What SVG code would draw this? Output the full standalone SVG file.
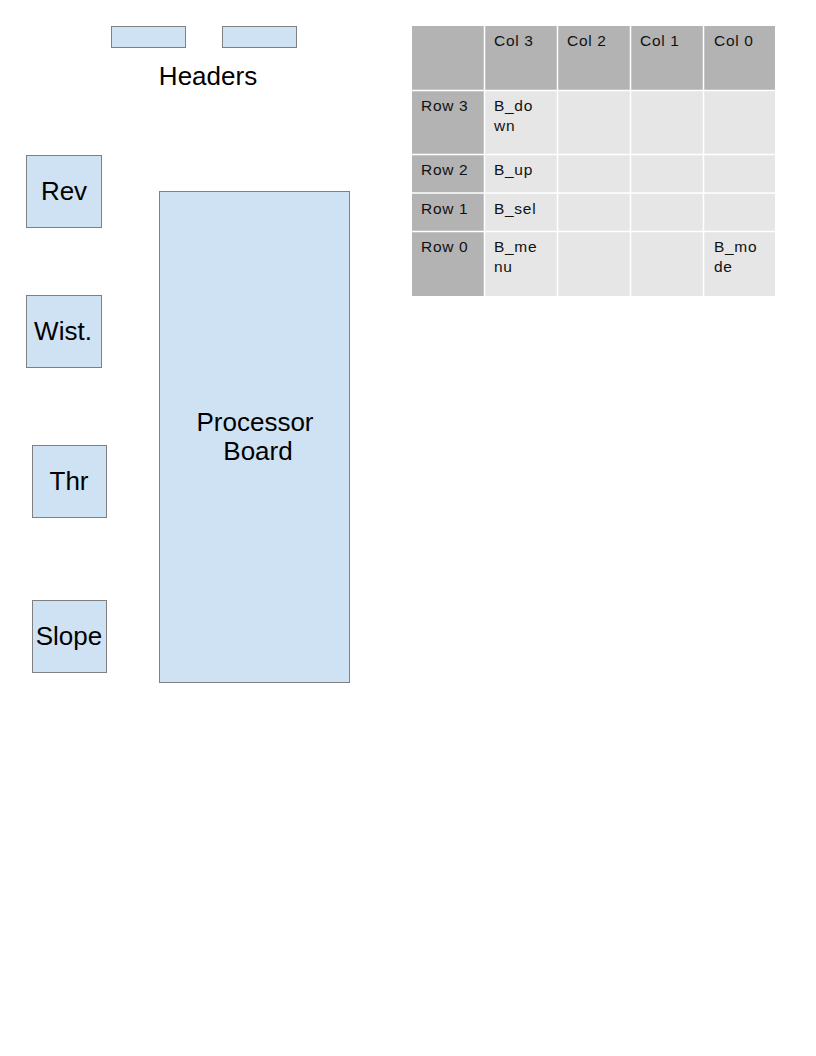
<svg xmlns="http://www.w3.org/2000/svg" width="816" height="1056" viewBox="0 0 816 1056">
  <style>
    .box { fill: #cfe2f3; stroke: #808080; stroke-width: 1; }
    .lbl { font-family: "Liberation Sans", Arial, sans-serif; font-size: 26px; fill: #000; text-anchor: middle; }
    .hd { fill: #b3b3b3; }
    .cell { fill: #e6e6e6; }
    .grid { stroke: #ffffff; stroke-width: 1.5; fill: none; }
    .tt { font-family: "Liberation Sans", Arial, sans-serif; font-size: 15.5px; letter-spacing: 0.7px; fill: #111; }
  </style>
  <rect width="816" height="1056" fill="#ffffff"/>

  <!-- header connectors -->
  <g id="headers">
    <rect class="box" x="111.5" y="26.5" width="74" height="21"/>
    <rect class="box" x="222.5" y="26.5" width="74" height="21"/>
    <text class="lbl" x="208" y="85">Headers</text>
  </g>

  <g id="rev">
    <rect class="box" x="26.5" y="155.5" width="75" height="72"/>
    <text class="lbl" x="64" y="200">Rev</text>
  </g>
  <g id="wist">
    <rect class="box" x="26.5" y="295.5" width="75" height="72"/>
    <text class="lbl" x="63" y="340">Wist.</text>
  </g>
  <g id="thr">
    <rect class="box" x="32.5" y="445.5" width="74" height="72"/>
    <text class="lbl" x="69" y="490">Thr</text>
  </g>
  <g id="slope">
    <rect class="box" x="32.5" y="600.5" width="74" height="72"/>
    <text class="lbl" x="69" y="645">Slope</text>
  </g>
  <g id="processor">
    <rect class="box" x="159.5" y="191.5" width="190" height="491"/>
    <text class="lbl" x="255" y="431">Processor</text>
    <text class="lbl" x="258" y="460">Board</text>
  </g>

  <g id="connectors"></g>

  <!-- button matrix table -->
  <g id="matrix">
    <rect class="hd" x="412" y="26" width="363" height="64"/>
    <rect class="hd" x="412" y="90" width="72" height="206"/>
    <rect class="cell" x="484" y="90" width="291" height="206"/>
    <path class="grid" d="M484.5 26V296 M557.5 26V296 M630.5 26V296 M703.5 26V296 M412 90.5H775 M412 154.5H775 M412 193H775 M412 231.5H775"/>
    <text class="tt" x="494" y="46">Col 3</text>
    <text class="tt" x="567" y="46">Col 2</text>
    <text class="tt" x="640" y="46">Col 1</text>
    <text class="tt" x="714" y="46">Col 0</text>
    <text class="tt" x="421" y="111">Row 3</text>
    <text class="tt" x="421" y="175">Row 2</text>
    <text class="tt" x="421" y="214">Row 1</text>
    <text class="tt" x="421" y="252">Row 0</text>
    <text class="tt" x="494" y="111">B_do</text>
    <text class="tt" x="494" y="131">wn</text>
    <text class="tt" x="494" y="175">B_up</text>
    <text class="tt" x="494" y="214">B_sel</text>
    <text class="tt" x="494" y="252">B_me</text>
    <text class="tt" x="494" y="272">nu</text>
    <text class="tt" x="714" y="252">B_mo</text>
    <text class="tt" x="714" y="272">de</text>
  </g>
</svg>
